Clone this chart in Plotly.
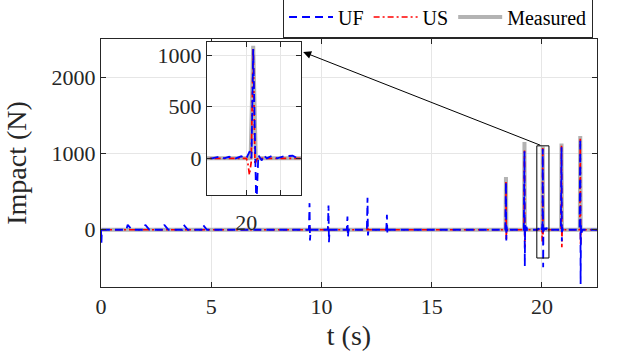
import plotly.graph_objects as go

# ---- data ----
# measured impact (grey)
meas_t = [0.00, 18.35, 18.37, 18.39, 19.19, 19.21, 19.23, 20.025, 20.04, 20.055,
          20.87, 20.89, 20.91, 21.72, 21.74, 21.76, 22.50]
meas_y = [0, 0, 690, 0, 0, 1150, 0, 0, 1090, 0,
          0, 1129, 0, 0, 1228, 0, 0]

# UF estimate (blue dashed)
uf_t = [0.00, 0.02, 0.04, 0.08,
        1.15, 1.21, 1.40, 1.95, 2.01, 2.20, 2.81, 2.87, 3.06,
        3.69, 3.75, 3.94, 4.56, 4.62, 4.81,
        9.43, 9.46, 9.48, 9.51, 10.29, 10.32, 10.34, 10.37,
        11.15, 11.18, 11.20, 11.23, 12.06, 12.09, 12.11, 12.14,
        12.94, 12.97, 12.99, 13.02,
        18.34, 18.37, 18.385, 18.40, 18.43, 18.46,
        19.18, 19.21, 19.225, 19.24, 19.27, 19.30, 19.33,
        19.80, 19.85, 19.87, 19.90, 19.93, 19.97, 20.00, 20.02, 20.03, 20.04,
        20.058, 20.07, 20.09, 20.10, 20.12, 20.15, 20.18, 20.22, 20.27, 20.30,
        20.86, 20.89, 20.905, 20.92, 20.95,
        21.71, 21.74, 21.757, 21.775, 21.80, 21.84,
        22.50]
uf_y = [0, -170, 0, 0,
        0, 65, 0, 0, 65, 0, 0, 65, 0,
        0, 65, 0, 0, 65, 0,
        0, 349, -140, 0, 0, 319, -163, 0,
        0, 175, -97, 0, 0, 420, -75, 0,
        0, 197, -52, 0,
        0, 625, -140, 40, -30, 0,
        0, 1030, -478, 60, -50, 40, 0,
        0, 20, 0, 15, -5, 20, 0, 70, 0, 1060,
        -490, 30, -20, 30, 0, 25, 0, 20, 25, 0,
        0, 1080, -150, 30, 0,
        0, 1194, -710, 60, -40, 0,
        0]

# US estimate (red dash-dot)
us_t = [0.00, 9.44, 9.46, 9.48, 10.30, 10.32, 10.34, 12.07, 12.09, 12.11,
        18.35, 18.37, 18.385, 18.40,
        19.19, 19.21, 19.225, 19.24,
        20.00, 20.01, 20.018, 20.028, 20.04, 20.05, 20.06, 20.07,
        20.87, 20.89, 20.905, 20.92,
        21.72, 21.74, 21.755, 21.77,
        22.50]
us_y = [0, 0, 40, 0, 0, 35, 0, 0, 40, 0,
        0, 625, -140, 0,
        0, 1040, -230, 0,
        0, -60, -160, -40, 1072, -60, -10, 0,
        0, 1106, -228, 0,
        0, 1194, -206, 0,
        0]

zoom_x = [19.77, 20.32]
zoom_y = [-370, 1100]

font = "Liberation Serif"
grey = "#b3b3b3"

fig = go.Figure()


def add_series(xa, ya, show):
    fig.add_trace(go.Scatter(x=meas_t, y=meas_y, mode="lines", name="Measured",
                             line=dict(color=grey, width=4), xaxis=xa, yaxis=ya,
                             showlegend=show, legendrank=3))
    fig.add_trace(go.Scatter(x=us_t, y=us_y, mode="lines", name="US",
                             line=dict(color="#ff0000", width=1.7, dash="6px,3px,2px,3px"),
                             xaxis=xa, yaxis=ya, showlegend=show, legendrank=2))
    fig.add_trace(go.Scatter(x=uf_t, y=uf_y, mode="lines", name="UF",
                             line=dict(color="#0000ff", width=1.8, dash="8px,5px"),
                             xaxis=xa, yaxis=ya, showlegend=show, legendrank=1))


add_series("x", "y", True)
add_series("x2", "y2", False)

# box marking the zoomed region
fig.add_shape(type="rect", xref="x", yref="y", x0=zoom_x[0], x1=zoom_x[1],
              y0=zoom_y[0], y1=zoom_y[1], line=dict(color="black", width=1))

fig.add_annotation(x=9.17, y=2330, xref="x", yref="y", ax=20.0, ay=zoom_y[1],
                   axref="x", ayref="y", showarrow=True, arrowhead=2,
                   arrowsize=1.6, arrowwidth=1, arrowcolor="black", text="")

axis_common = dict(showline=True, linecolor="#262626", linewidth=1, mirror="ticks",
                   ticks="inside", ticklen=5, tickcolor="#262626", automargin=False,
                   showgrid=True, gridcolor="#e6e6e6", zeroline=False,
                   tickfont=dict(family=font, size=22, color="#262626"))

fig.update_layout(
    width=619, height=355,
    margin=dict(l=101, r=22, t=39, b=68, autoexpand=False),
    paper_bgcolor="white", plot_bgcolor="white",
    font=dict(family=font, color="#262626"),
    xaxis=dict(range=[0, 22.5], tickvals=[0, 5, 10, 15, 20],
               title=dict(text="t (s)", font=dict(size=28), standoff=6), **axis_common),
    yaxis=dict(range=[-750, 2500], tickvals=[0, 1000, 2000],
               title=dict(text="Impact (N)", font=dict(size=28), standoff=16), **axis_common),
    xaxis2=dict(domain=[0.2136, 0.4036], anchor="y2", range=[zoom_x[0], zoom_x[1]],
                tickvals=[20, 20.2], ticktext=["20", ""], ticklabelstandoff=8, **axis_common),
    yaxis2=dict(domain=[0.371, 0.989], anchor="x2", range=[-355, 1130],
                tickvals=[0, 500, 1000], **axis_common),
    legend=dict(orientation="h", x=0.992, xanchor="right", y=1.006, yanchor="bottom",
                bgcolor="white", bordercolor="#262626", borderwidth=1,
                font=dict(family=font, size=20, color="black"), itemwidth=44,
                traceorder="normal"),
)

# white background for inset
fig.add_shape(type="rect", xref="x2 domain", yref="y2 domain", x0=0, x1=1, y0=0, y1=1,
              fillcolor="white", line=dict(width=0), layer="below")

fig.write_html("out.html", config={"displayModeBar": False},
               post_script="document.body.style.margin='0';")
